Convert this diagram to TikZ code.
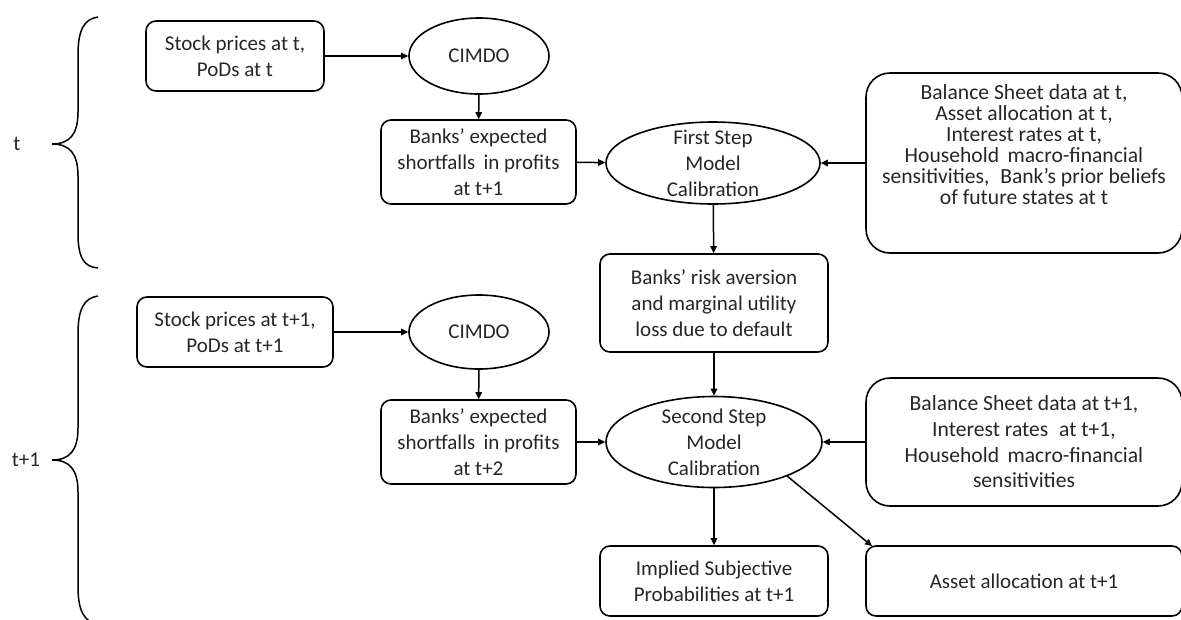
\documentclass[tikz,border=0pt]{standalone}
\usepackage{fontspec}
\setmainfont{Carlito}
\usetikzlibrary{arrows.meta,shapes.geometric}
\definecolor{ink}{rgb}{0.15,0.15,0.15}
\tikzset{
  txt/.style={text=ink,align=center,font=\fontsize{21}{26}\selectfont},
  rbox/.style={txt,draw=black,line width=1.6,rounded corners=10,inner sep=0},
  bigbox/.style={rbox,rounded corners=24},
  ell/.style={draw=black,line width=1.6,ellipse,inner sep=0},
  ellabel/.style={label={[txt]center:#1}},
  conn/.style={line width=1.5,-{Triangle[length=7,width=6.5]}},
  brace/.style={line width=1.5}
}
\begin{document}
\begin{tikzpicture}[x=1pt,y=-1pt]
\useasboundingbox (0,0) rectangle (1181,619);

% period t
\node[rbox,minimum width=178,minimum height=70] (sp1) at (235,56) {Stock prices at t,\\PoDs at t};
\node[ell,minimum width=140,minimum height=76,ellabel={CIMDO}] (cim1) at (479,56) {};
\node[rbox,minimum width=195,minimum height=84] (es1) at (478.5,162) {Banks’ expected\\shortfalls\, in profits\\at t+1};
\node[ell,minimum width=214,minimum height=82,ellabel={First Step\\Model\\Calibration}] (fs) at (713,163) {};
\node[bigbox,minimum width=316,minimum height=180,
      label={[txt,font=\fontsize{21.6}{21}\selectfont,yshift=18]center:Balance Sheet data at t,\\Asset allocation at t,\\Interest rates at t,\\Household\, macro-financial\\sensitivities,\; Bank’s prior beliefs\\of future states at t}] (bs1) at (1024,163) {};
\node[rbox,minimum width=228,minimum height=98] (ra) at (714,303) {Banks’ risk aversion\\and marginal utility\\loss due to default};

% period t+1
\node[rbox,minimum width=196,minimum height=70] (sp2) at (235,332) {Stock prices at t+1,\\PoDs at t+1};
\node[ell,minimum width=140,minimum height=74,ellabel={CIMDO}] (cim2) at (479,332) {};
\node[rbox,minimum width=195,minimum height=84] (es2) at (478.5,442) {Banks’ expected\\shortfalls\, in profits\\at t+2};
\node[ell,minimum width=216,minimum height=91,ellabel={Second Step\\Model\\Calibration}] (ss) at (714,442) {};
\node[bigbox,minimum width=316,minimum height=128,font=\fontsize{21.6}{25.7}\selectfont] (bs2) at (1024,442)
  {Balance Sheet data at t+1,\\Interest rates\; at t+1,\\Household\, macro-financial\\sensitivities};
\node[rbox,minimum width=228,minimum height=70] (isp) at (714,581) {Implied Subjective\\Probabilities at t+1};
\node[rbox,minimum width=316,minimum height=70] (aa) at (1024,581) {Asset allocation at t+1};
\coordinate (aaend) at (872,546);

% connectors
\draw[conn] (sp1) -- (cim1);
\draw[conn] (cim1) -- (es1);
\draw[conn] (es1) -- (fs);
\draw[conn] (bs1) -- (fs);
\draw[conn] (fs) -- (ra);
\draw[conn] (sp2) -- (cim2);
\draw[conn] (cim2) -- (es2);
\draw[conn] (es2) -- (ss);
\draw[conn] (bs2) -- (ss);
\draw[conn] (ra) -- (ss);
\draw[conn] (ss) -- (isp);
\draw[conn] (ss.-25) -- (aaend);

% period braces
\node[txt] (lt) at (17,144) {t};
\node[txt] (lt1) at (26,460) {t+1};
\draw[brace] (98,17) .. controls (84,19) and (78,30) .. (78,55) -- (78,112)
  .. controls (78,134) and (70,144) .. (52,144)
  .. controls (70,144) and (78,154) .. (78,176) -- (78,233)
  .. controls (78,258) and (84,267) .. (98,268);
\draw[brace] (98,296) .. controls (84,298) and (78,309) .. (78,334) -- (78,428)
  .. controls (78,450) and (70,460) .. (52,460)
  .. controls (70,460) and (78,470) .. (78,492) -- (78,586)
  .. controls (78,611) and (84,622) .. (98,624);
\end{tikzpicture}
\end{document}
